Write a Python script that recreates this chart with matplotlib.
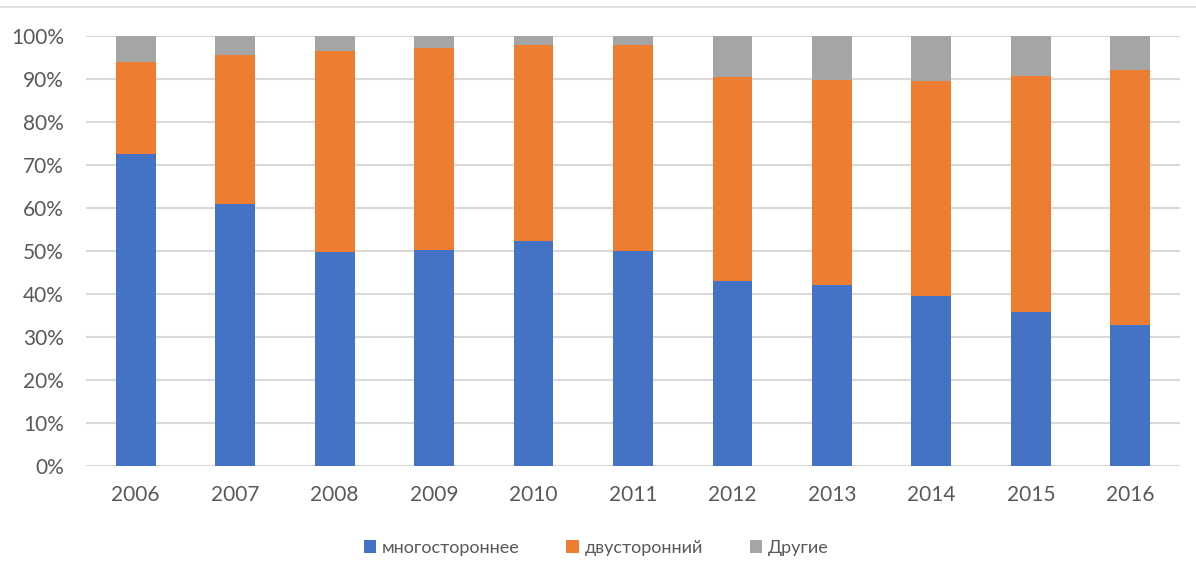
import matplotlib
matplotlib.use("Agg")
import matplotlib.pyplot as plt
from matplotlib.ticker import FuncFormatter
from matplotlib.lines import Line2D
import numpy as np

years = ["2006", "2007", "2008", "2009", "2010", "2011", "2012", "2013", "2014", "2015", "2016"]
multilateral = [72.6, 61.0, 49.8, 50.3, 52.4, 50.1, 43.0, 42.1, 39.6, 35.9, 32.9]
bilateral_top = [94.0, 95.6, 96.5, 97.3, 97.8, 97.8, 90.5, 89.8, 89.5, 90.8, 92.2]
labels = ["многостороннее", "двусторонний", "Другие"]
colors = ["#4472C4", "#ED7D31", "#A5A5A5"]

multi = np.array(multilateral)
bil = np.array(bilateral_top) - multi
other = 100 - np.array(bilateral_top)

plt.rcParams['font.family'] = ['Lato', 'DejaVu Sans']

fig = plt.figure(figsize=(11.96, 5.77), dpi=100)
ax = fig.add_axes([86/1196, 1 - 466/577, (1180 - 86)/1196, (466 - 36)/577])

x = np.arange(len(years))
w = 0.4
ax.bar(x, multi, w, color=colors[0], label=labels[0], zorder=3)
ax.bar(x, bil, w, bottom=multi, color=colors[1], label=labels[1], zorder=3)
ax.bar(x, other, w, bottom=multi + bil, color=colors[2], label=labels[2], zorder=3)

ax.set_xlim(-0.5, len(years) - 0.5)
ax.set_ylim(0, 100)
ax.set_yticks(np.arange(0, 101, 10))
ax.yaxis.set_major_formatter(FuncFormatter(lambda v, p: f"{int(v)}%"))
ax.set_xticks(x)
ax.set_xticklabels(years)
ax.grid(axis='y', color='#D9D9D9', linewidth=1.5, zorder=0)
ax.set_axisbelow(True)
for s in ax.spines.values():
    s.set_visible(False)
ax.tick_params(axis='both', length=0, labelsize=15, labelcolor='#595959')
ax.tick_params(axis='x', pad=14)
ax.tick_params(axis='y', pad=16)

leg = fig.legend(loc='center', bbox_to_anchor=(596/1196, 1 - 548/577), ncol=3,
                 frameon=False, fontsize=13, handlelength=0.7, handleheight=0.7,
                 handletextpad=0.3, columnspacing=2.6)
for t in leg.get_texts():
    t.set_color('#595959')

fig.lines.append(Line2D([0, 1], [1 - 7/577, 1 - 7/577], transform=fig.transFigure,
                        color='#D9D9D9', linewidth=1.2))

fig.savefig("out.png", dpi=100)
